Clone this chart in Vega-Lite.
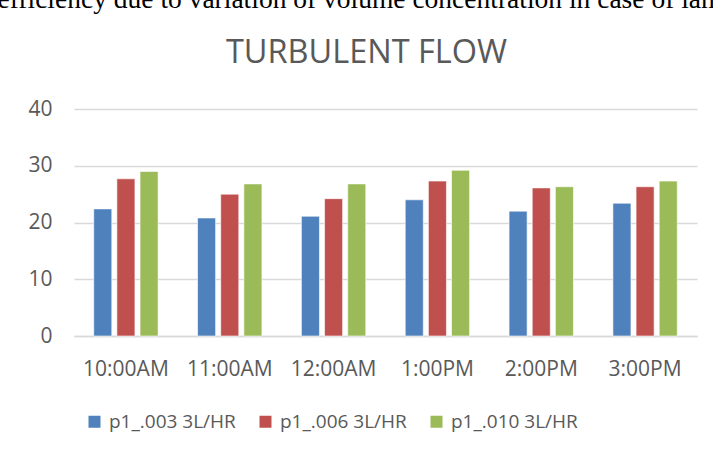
{
  "$schema": "https://vega.github.io/schema/vega-lite/v6.json",
  "width": 623,
  "height": 227,
  "autosize": "none",
  "padding": {"left": 74, "top": 109, "right": 16, "bottom": 114},
  "background": "white",
  "config": {"view": {"stroke": null}},
  "title": {
    "text": "TURBULENT FLOW",
    "font": "Open Sans",
    "fontSize": 32.5,
    "fontWeight": "normal",
    "color": "#595959",
    "anchor": "middle",
    "frame": "group",
    "dx": -19,
    "baseline": "alphabetic",
    "offset": -110
  },
  "data": {
    "values": [
      {"time": "10:00AM", "series": "p1_.003 3L/HR", "value": 22.4},
      {"time": "10:00AM", "series": "p1_.006 3L/HR", "value": 27.7},
      {"time": "10:00AM", "series": "p1_.010 3L/HR", "value": 29.0},
      {"time": "11:00AM", "series": "p1_.003 3L/HR", "value": 20.8},
      {"time": "11:00AM", "series": "p1_.006 3L/HR", "value": 25.0},
      {"time": "11:00AM", "series": "p1_.010 3L/HR", "value": 26.8},
      {"time": "12:00AM", "series": "p1_.003 3L/HR", "value": 21.1},
      {"time": "12:00AM", "series": "p1_.006 3L/HR", "value": 24.2},
      {"time": "12:00AM", "series": "p1_.010 3L/HR", "value": 26.8},
      {"time": "1:00PM", "series": "p1_.003 3L/HR", "value": 24.0},
      {"time": "1:00PM", "series": "p1_.006 3L/HR", "value": 27.3},
      {"time": "1:00PM", "series": "p1_.010 3L/HR", "value": 29.2},
      {"time": "2:00PM", "series": "p1_.003 3L/HR", "value": 22.0},
      {"time": "2:00PM", "series": "p1_.006 3L/HR", "value": 26.1},
      {"time": "2:00PM", "series": "p1_.010 3L/HR", "value": 26.3},
      {"time": "3:00PM", "series": "p1_.003 3L/HR", "value": 23.4},
      {"time": "3:00PM", "series": "p1_.006 3L/HR", "value": 26.3},
      {"time": "3:00PM", "series": "p1_.010 3L/HR", "value": 27.3}
    ]
  },
  "mark": {"type": "bar", "stroke": "white", "strokeWidth": 1, "strokeOpacity": 0.6},
  "encoding": {
    "x": {
      "field": "time",
      "type": "nominal",
      "sort": null,
      "scale": {"paddingInner": 0.38, "paddingOuter": 0.19},
      "axis": {
        "title": null,
        "labelAngle": 0,
        "labelFont": "Open Sans",
        "labelFontSize": 21,
        "labelColor": "#595959",
        "labelBaseline": "alphabetic",
        "labelPadding": 39,
        "ticks": false,
        "domainColor": "#d9d9d9",
        "domainWidth": 1.5
      }
    },
    "xOffset": {
      "field": "series",
      "sort": null,
      "scale": {"paddingInner": 0.22, "paddingOuter": 0}
    },
    "y": {
      "field": "value",
      "type": "quantitative",
      "scale": {"domain": [0, 40], "nice": false},
      "axis": {
        "values": [0, 10, 20, 30, 40],
        "labelFont": "Open Sans",
        "labelFontSize": 21,
        "labelColor": "#595959",
        "labelPadding": 22,
        "ticks": false,
        "domain": false,
        "gridColor": "#d9d9d9",
        "gridWidth": 1.5,
        "title": "efficiency due to variation of volume concentration in case of laminar flow",
        "titleAngle": 0,
        "titleAlign": "left",
        "titleBaseline": "alphabetic",
        "titleX": -77,
        "titleY": -102,
        "titleFont": "Liberation Serif",
        "titleFontSize": 27.5,
        "titleFontWeight": "normal",
        "titleColor": "black"
      }
    },
    "color": {
      "field": "series",
      "type": "nominal",
      "sort": null,
      "scale": {"range": ["#4F81BD", "#C0504D", "#9BBB59"]},
      "legend": {
        "title": null,
        "orient": "none",
        "direction": "horizontal",
        "legendX": 11,
        "legendY": 303,
        "symbolType": "square",
        "symbolSize": 144,
        "symbolStrokeWidth": 0,
        "labelFont": "Open Sans",
        "labelFontSize": 19,
        "labelColor": "#595959",
        "labelOffset": 5,
        "columnPadding": 20,
        "padding": 0
      }
    }
  }
}
